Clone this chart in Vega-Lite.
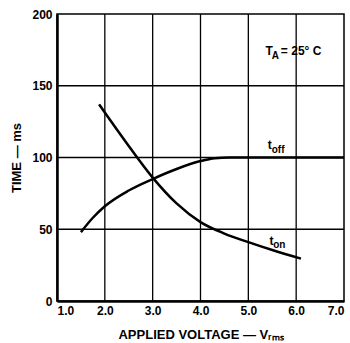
{
  "$schema": "https://vega.github.io/schema/vega-lite/v6.json",
  "width": 287,
  "height": 287,
  "autosize": "none",
  "padding": {"left": 57, "top": 14, "right": 6, "bottom": 42},
  "background": "white",
  "config": {
    "view": {"stroke": "black", "strokeWidth": 1.5},
    "font": "Liberation Sans",
    "axis": {
      "grid": false,
      "labelFont": "Liberation Sans",
      "labelFontWeight": "bold",
      "labelFontSize": 12,
      "labelColor": "black",
      "titleFont": "Liberation Sans",
      "titleFontWeight": "bold",
      "titleFontSize": 13,
      "titleColor": "black",
      "domainColor": "black",
      "domainWidth": 2.5,
      "ticks": false
    }
  },
  "datasets": {
    "gridx": [{"v": 2}, {"v": 3}, {"v": 4}, {"v": 5}, {"v": 6}],
    "gridy": [{"t": 50}, {"t": 100}, {"t": 150}],
    "curves": [
      {"v": 1.5, "t": 48, "s": "off"},
      {"v": 1.75, "t": 58, "s": "off"},
      {"v": 2.0, "t": 66, "s": "off"},
      {"v": 2.5, "t": 77, "s": "off"},
      {"v": 3.0, "t": 85, "s": "off"},
      {"v": 3.5, "t": 92, "s": "off"},
      {"v": 4.0, "t": 97.5, "s": "off"},
      {"v": 4.3, "t": 99.5, "s": "off"},
      {"v": 4.6, "t": 100, "s": "off"},
      {"v": 7.0, "t": 100, "s": "off"},
      {"v": 1.88, "t": 137, "s": "on"},
      {"v": 2.5, "t": 108, "s": "on"},
      {"v": 3.0, "t": 86, "s": "on"},
      {"v": 3.5, "t": 68, "s": "on"},
      {"v": 4.0, "t": 55, "s": "on"},
      {"v": 4.5, "t": 47, "s": "on"},
      {"v": 5.0, "t": 41, "s": "on"},
      {"v": 5.5, "t": 35.5, "s": "on"},
      {"v": 6.1, "t": 29.5, "s": "on"}
    ],
    "bigtext": [
      {"v": 5.36, "t": 171.4, "label": "T"},
      {"v": 5.68, "t": 171.4, "label": "= 25° C"},
      {"v": 5.405, "t": 105.9, "label": "t"},
      {"v": 5.44, "t": 39.2, "label": "t"}
    ],
    "subtext": [
      {"v": 5.49, "t": 168.4, "label": "A"},
      {"v": 5.489, "t": 103.3, "label": "off"},
      {"v": 5.52, "t": 36.9, "label": "on"}
    ]
  },
  "layer": [
    {
      "data": {"name": "gridx"},
      "mark": {"type": "rule", "color": "black", "strokeWidth": 1.3},
      "encoding": {
        "x": {
          "field": "v", "type": "quantitative",
          "scale": {"domain": [1, 7], "nice": false, "zero": false},
          "axis": {"values": [1, 2, 3, 4, 5, 6, 7], "format": ".1f", "labelPadding": 4, "title": "APPLIED VOLTAGE — Vᵣₘₛ", "titlePadding": 12}
        }
      }
    },
    {
      "data": {"name": "gridy"},
      "mark": {"type": "rule", "color": "black", "strokeWidth": 1.3},
      "encoding": {
        "y": {
          "field": "t", "type": "quantitative",
          "scale": {"domain": [0, 200], "nice": false},
          "axis": {"values": [0, 50, 100, 150, 200], "labelPadding": 5, "title": "TIME — ms", "titlePadding": 8}
        }
      }
    },
    {
      "data": {"name": "curves"},
      "mark": {"type": "line", "color": "black", "strokeWidth": 2.5, "interpolate": "monotone"},
      "encoding": {
        "x": {"field": "v", "type": "quantitative"},
        "y": {"field": "t", "type": "quantitative"},
        "detail": {"field": "s"}
      }
    },
    {
      "data": {"name": "bigtext"},
      "mark": {"type": "text", "align": "left", "baseline": "alphabetic", "fontSize": 12, "fontWeight": "bold", "font": "Liberation Sans", "color": "black"},
      "encoding": {
        "x": {"field": "v", "type": "quantitative"},
        "y": {"field": "t", "type": "quantitative"},
        "text": {"field": "label"}
      }
    },
    {
      "data": {"name": "subtext"},
      "mark": {"type": "text", "align": "left", "baseline": "alphabetic", "fontSize": 10, "fontWeight": "bold", "font": "Liberation Sans", "color": "black"},
      "encoding": {
        "x": {"field": "v", "type": "quantitative"},
        "y": {"field": "t", "type": "quantitative"},
        "text": {"field": "label"}
      }
    }
  ]
}
